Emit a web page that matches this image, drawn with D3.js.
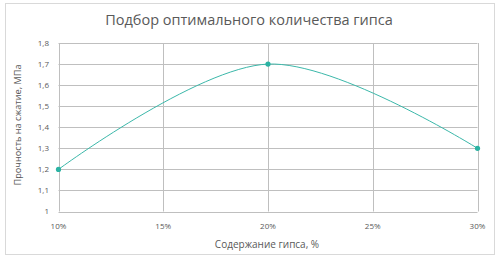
<!DOCTYPE html>
<html>
<head>
<meta charset="utf-8">
<script src="https://cdn.jsdelivr.net/npm/d3@7"></script>
<style>
  body { margin: 0; background: #fff; }
  svg { display: block; font-family: "Open Sans", "Noto Sans", sans-serif; }
</style>
</head>
<body>
<svg id="chart" width="502" height="266"></svg>
<script>
// data
const gypsum = [0.10, 0.20, 0.30];
const strength = [1.2, 1.7, 1.3];
const xTicks = [0.10, 0.15, 0.20, 0.25, 0.30];
const yTicks = [1, 1.1, 1.2, 1.3, 1.4, 1.5, 1.6, 1.7, 1.8];

const size = { width: 502, height: 266, left: 58.5, right: 477.5, top: 43, bottom: 211.5 };
const svg = d3.select('#chart');

// outer frame
svg.append("rect")
    .attr("x", 5.5).attr("y", 3.5)
    .attr("width", 489).attr("height", 251)
    .attr("fill", "#fff")
    .attr("stroke", "#d9d9d9");

const x = d3.scaleLinear().domain([0.10, 0.30]).range([size.left, size.right]);
const y = d3.scaleLinear().domain([1, 1.8]).range([size.bottom, size.top]);

// horizontal grid
svg.append("g").selectAll("line")
    .data(yTicks)
    .enter().append("line")
    .attr("x1", size.left).attr("x2", size.right)
    .attr("y1", d => Math.round(y(d)) + 0.5).attr("y2", d => Math.round(y(d)) + 0.5)
    .attr("stroke", "#bfbfbf");

// vertical grid
svg.append("g").selectAll("line")
    .data(xTicks)
    .enter().append("line")
    .attr("x1", d => Math.round(x(d)) + 0.5).attr("x2", d => Math.round(x(d)) + 0.5)
    .attr("y1", size.top).attr("y2", size.bottom)
    .attr("stroke", "#bfbfbf");

// tick labels
const fmt = d3.format(".1f");
svg.append("g").selectAll("text")
    .data(yTicks)
    .enter().append("text")
    .attr("x", 49)
    .attr("y", d => y(d))
    .attr("dy", "0.35em")
    .attr("text-anchor", "end")
    .attr("font-size", 8)
    .attr("fill", "#595959")
    .text(d => d === 1 ? "1" : fmt(d).replace(".", ","));

svg.append("g").selectAll("text")
    .data(xTicks)
    .enter().append("text")
    .attr("x", d => x(d))
    .attr("y", 226)
    .attr("dy", "0.35em")
    .attr("text-anchor", "middle")
    .attr("font-size", 8)
    .attr("fill", "#595959")
    .text(d => Math.round(d * 100) + "%");

// smoothed line
const points = gypsum.map((g, i) => ({ g: g, v: strength[i] }));
const line = d3.line()
    .x(d => x(d.g))
    .y(d => y(d.v))
    .curve(d3.curveCatmullRom.alpha(0.5));

svg.append("path")
    .datum(points)
    .attr("d", line)
    .attr("fill", "none")
    .attr("stroke", "#3cb8aa")
    .attr("stroke-width", 1);

svg.append("g").selectAll("circle")
    .data(points)
    .enter().append("circle")
    .attr("cx", d => x(d.g))
    .attr("cy", d => y(d.v))
    .attr("r", 2.6)
    .attr("fill", "#2bb3a3");

// titles
svg.append("text")
    .attr("x", 249).attr("y", 25)
    .attr("text-anchor", "middle")
    .attr("font-size", 14.5)
    .attr("fill", "#595959")
    .text("Подбор оптимального количества гипса");

svg.append("text")
    .attr("x", 267).attr("y", 248)
    .attr("text-anchor", "middle")
    .attr("font-size", 10)
    .attr("fill", "#595959")
    .text("Содержание гипса, %");

svg.append("text")
    .attr("transform", "translate(21,125) rotate(-90)")
    .attr("text-anchor", "middle")
    .attr("font-size", 9.2)
    .attr("fill", "#595959")
    .text("Прочность на сжатие, МПа");
</script>
</body>
</html>
